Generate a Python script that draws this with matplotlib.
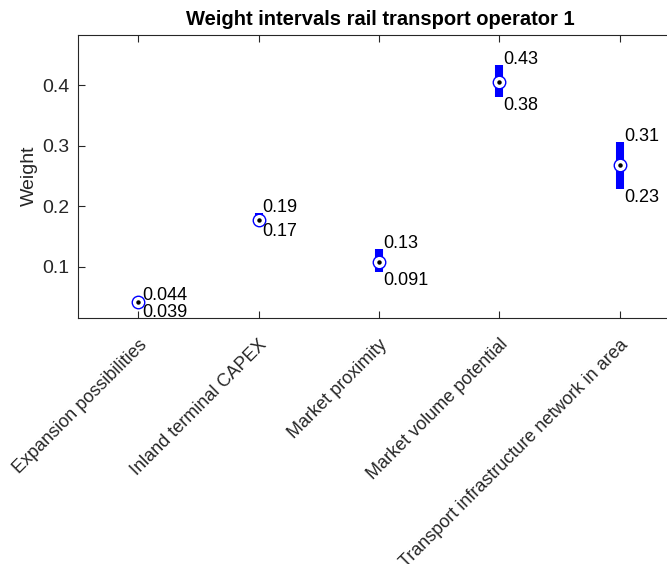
import matplotlib
matplotlib.use("Agg")
import matplotlib.pyplot as plt
from matplotlib.transforms import ScaledTranslation

categories = ["Expansion possibilities", "Inland terminal CAPEX", "Market proximity",
              "Market volume potential", "Transport infrastructure network in area"]
low = [0.039, 0.172, 0.091, 0.381, 0.228]
high = [0.044, 0.188, 0.129, 0.433, 0.306]
median = [0.0415, 0.177, 0.108, 0.405, 0.268]
yticks = [0.1, 0.2, 0.3, 0.4]

plt.rcParams['font.family'] = ['Liberation Sans', 'DejaVu Sans']
fig = plt.figure(figsize=(6.67, 5.64), dpi=100)
ax = fig.add_axes([78/667, 1-318/564, 602/667, (318-34.5)/564])

gray = '#262626'
xs = list(range(1, len(categories)+1))
for x, lo, hi, md in zip(xs, low, high, median):
    ax.plot([x, x], [lo, hi], color=(0, 0, 1), lw=5.8, solid_capstyle='butt', zorder=2)
    ax.plot([x], [md], marker='o', ms=9, mfc='white', mec=(0, 0, 1), mew=1.0, zorder=3)
    ax.plot([x], [md], marker='o', ms=2.2, color='black', zorder=4)
    ax.annotate(f"{hi:.2g}", (x, hi), xytext=(4, 1), textcoords='offset pixels',
                ha='left', va='baseline', fontsize=13, color='black')
    ax.annotate(f"{lo:.2g}", (x, lo), xytext=(4, 0), textcoords='offset pixels',
                ha='left', va='top', fontsize=13, color='black')

ax.set_xlim(0.5, 5.5)
ax.set_ylim(0.0153, 0.4834)
ax.set_xticks(xs)
ax.set_xticklabels(categories, rotation=45, ha='right', va='top',
                   rotation_mode='anchor', fontsize=13, color=gray)
shift = ScaledTranslation(5/100, 0, fig.dpi_scale_trans)
for lab in ax.get_xticklabels():
    lab.set_transform(lab.get_transform() + shift)
ax.set_yticks(yticks)
ax.set_yticklabels([f"{t:g}" for t in yticks], fontsize=14, color=gray)
ax.tick_params(direction='in', length=5, width=0.8, color=gray, top=True, right=True)
ax.tick_params(axis='x', pad=13)
ax.tick_params(axis='y', pad=6)
for s in ax.spines.values():
    s.set_color(gray)
    s.set_linewidth(0.8)
ax.set_ylabel("Weight", fontsize=14, color=gray, labelpad=3)
ax.set_title("Weight intervals rail transport operator 1", fontsize=14.5, fontweight='bold',
             color='black', x=(380-78)/602, pad=7)

fig.savefig("out.png", dpi=100)
